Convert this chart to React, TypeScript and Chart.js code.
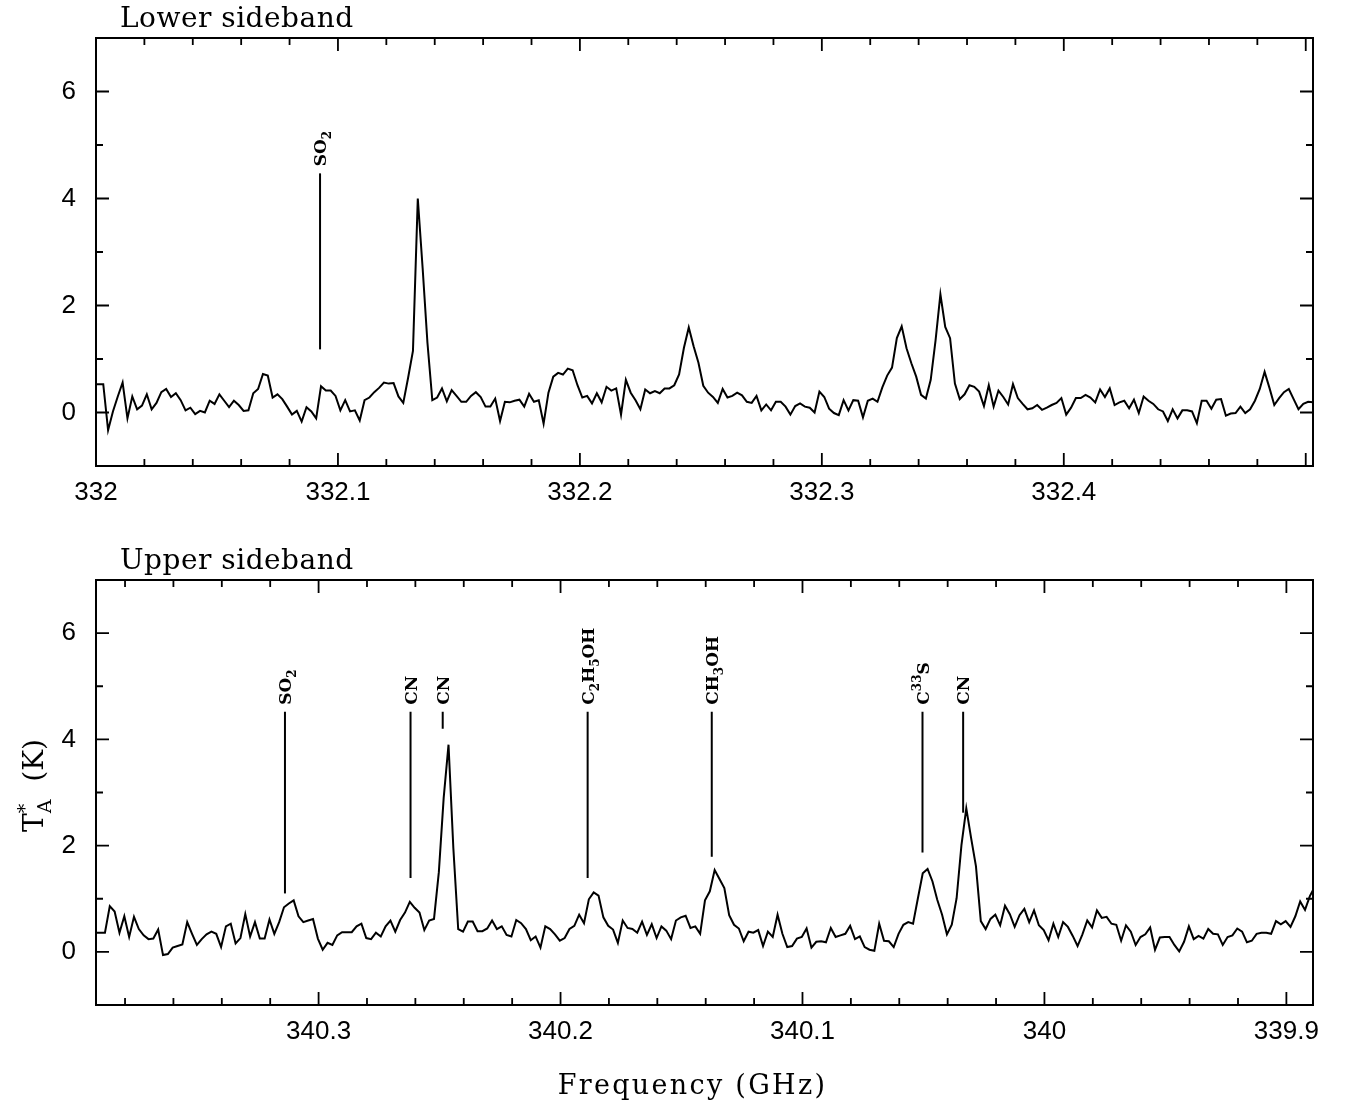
import React, { useEffect, useRef } from "react";
import { Chart, registerables } from "chart.js";

Chart.register(...registerables);

// ---------------- data ----------------
// channel grid (GHz)
const lowerStartGHz = 331.999;
const upperStartGHz = 340.3923;
const channelWidthGHz = 0.002;

// Lower sideband antenna temperature T_A* (K), one value per channel
const lowerValues = [
  0.53,
  0.53, 0.53, -0.33, 0.02, 0.30, 0.56, -0.11, 0.30, 0.06, 0.13,
  0.34, 0.06, 0.18, 0.38, 0.44, 0.29, 0.36, 0.23, 0.04, 0.09,
  -0.03, 0.03, 0.00, 0.22, 0.16, 0.34, 0.22, 0.10, 0.22, 0.14,
  0.03, 0.04, 0.36, 0.44, 0.72, 0.69, 0.28, 0.34, 0.25, 0.11,
  -0.04, 0.03, -0.17, 0.10, 0.02, -0.11, 0.49, 0.41, 0.41, 0.31,
  0.04, 0.23, 0.02, 0.04, -0.15, 0.23, 0.28, 0.38, 0.46, 0.56,
  0.54, 0.55, 0.30, 0.18, 0.65, 1.15, 4.00, 2.70, 1.30, 0.23,
  0.28, 0.45, 0.21, 0.42, 0.31, 0.20, 0.20, 0.31, 0.38, 0.29,
  0.11, 0.11, 0.26, -0.16, 0.20, 0.19, 0.22, 0.24, 0.11, 0.35,
  0.20, 0.23, -0.21, 0.37, 0.67, 0.74, 0.71, 0.82, 0.79, 0.51,
  0.28, 0.31, 0.17, 0.36, 0.19, 0.48, 0.41, 0.45, -0.04, 0.61,
  0.37, 0.23, 0.06, 0.43, 0.36, 0.40, 0.36, 0.45, 0.45, 0.51,
  0.71, 1.21, 1.59, 1.24, 0.93, 0.50, 0.37, 0.29, 0.18, 0.44,
  0.28, 0.31, 0.37, 0.32, 0.20, 0.18, 0.31, 0.04, 0.15, 0.04,
  0.20, 0.20, 0.11, -0.04, 0.12, 0.17, 0.11, 0.09, 0.00, 0.39,
  0.29, 0.07, -0.01, -0.05, 0.23, 0.04, 0.23, 0.22, -0.09, 0.22,
  0.26, 0.20, 0.47, 0.69, 0.84, 1.39, 1.61, 1.20, 0.92, 0.67,
  0.33, 0.26, 0.61, 1.35, 2.21, 1.60, 1.39, 0.54, 0.25, 0.34,
  0.51, 0.48, 0.39, 0.12, 0.51, 0.11, 0.41, 0.29, 0.15, 0.53,
  0.27, 0.16, 0.06, 0.08, 0.14, 0.05, 0.09, 0.14, 0.18, 0.27,
  -0.04, 0.09, 0.27, 0.27, 0.33, 0.28, 0.19, 0.43, 0.29, 0.45,
  0.14, 0.19, 0.22, 0.08, 0.24, -0.01, 0.30, 0.22, 0.16, 0.06,
  0.02, -0.16, 0.06, -0.11, 0.04, 0.04, 0.02, -0.20, 0.22, 0.22,
  0.07, 0.24, 0.25, -0.06, -0.02, -0.01, 0.11, -0.01, 0.06, 0.22,
  0.44, 0.76, 0.46, 0.14, 0.27, 0.38, 0.44, 0.25, 0.06, 0.16,
  0.20, 0.19,
];

// Upper sideband antenna temperature T_A* (K), frequency decreasing
const upperValues = [
  0.36, 0.36, 0.36, 0.86, 0.76, 0.36, 0.67, 0.28, 0.66, 0.43,
  0.31, 0.24, 0.25, 0.42, -0.06, -0.04, 0.08, 0.11, 0.14, 0.56,
  0.34, 0.13, 0.24, 0.33, 0.38, 0.34, 0.09, 0.48, 0.53, 0.16,
  0.26, 0.71, 0.29, 0.56, 0.25, 0.25, 0.61, 0.34, 0.56, 0.84,
  0.91, 0.97, 0.67, 0.56, 0.59, 0.62, 0.25, 0.04, 0.17, 0.13,
  0.31, 0.37, 0.37, 0.37, 0.48, 0.53, 0.26, 0.24, 0.36, 0.29,
  0.48, 0.59, 0.38, 0.60, 0.74, 0.94, 0.83, 0.74, 0.41, 0.59,
  0.62, 1.50, 2.90, 3.90, 1.95, 0.43, 0.38, 0.57, 0.57, 0.39,
  0.39, 0.44, 0.59, 0.43, 0.48, 0.32, 0.29, 0.60, 0.54, 0.43,
  0.22, 0.29, 0.08, 0.48, 0.43, 0.33, 0.21, 0.26, 0.43, 0.49,
  0.70, 0.54, 0.99, 1.12, 1.06, 0.65, 0.49, 0.42, 0.17, 0.59,
  0.45, 0.43, 0.36, 0.57, 0.32, 0.52, 0.26, 0.48, 0.40, 0.24,
  0.59, 0.65, 0.68, 0.45, 0.48, 0.34, 0.97, 1.14, 1.54, 1.37,
  1.20, 0.69, 0.51, 0.44, 0.20, 0.38, 0.36, 0.41, 0.11, 0.38,
  0.28, 0.70, 0.34, 0.09, 0.11, 0.25, 0.28, 0.44, 0.08, 0.19,
  0.20, 0.18, 0.45, 0.28, 0.31, 0.34, 0.49, 0.24, 0.29, 0.09,
  0.04, 0.02, 0.53, 0.21, 0.20, 0.09, 0.34, 0.51, 0.56, 0.53,
  1.01, 1.48, 1.56, 1.33, 0.98, 0.70, 0.33, 0.51, 1.01, 2.01,
  2.70, 2.14, 1.61, 0.58, 0.43, 0.62, 0.70, 0.50, 0.87, 0.71,
  0.47, 0.69, 0.81, 0.56, 0.78, 0.50, 0.41, 0.22, 0.53, 0.28,
  0.56, 0.47, 0.30, 0.11, 0.33, 0.59, 0.46, 0.78, 0.64, 0.66,
  0.53, 0.51, 0.21, 0.50, 0.38, 0.13, 0.28, 0.33, 0.46, 0.04,
  0.27, 0.28, 0.28, 0.13, 0.01, 0.19, 0.48, 0.24, 0.30, 0.25,
  0.43, 0.34, 0.33, 0.13, 0.28, 0.31, 0.44, 0.38, 0.18, 0.21,
  0.34, 0.36, 0.36, 0.34, 0.58, 0.52, 0.58, 0.47, 0.67, 0.95,
  0.79, 1.05, 1.22,
];

// axis ranges and labelled ticks
const lowerRange = [332.0, 332.503];
const upperRange = [339.889, 340.392];
const yRange = [-1, 7];
const lowerTickLabels = [332, 332.1, 332.2, 332.3, 332.4];
const upperTickLabels = [340.3, 340.2, 340.1, 340, 339.9];
const yTickLabels = [0, 2, 4, 6];

// line identifications
const lowerMarkerFreqs = [332.0926];
const lowerMarkerNames = ["SO_2"];
const lowerMarkerTops = [4.47];
const lowerMarkerBottoms = [1.18];

const upperMarkerFreqs = [340.3139, 340.262, 340.2487, 340.1888, 340.1375, 340.0504, 340.0336];
const upperMarkerNames = ["SO_2", "CN", "CN", "C_2H_5OH", "CH_3OH", "C^{33}S", "CN"];
const upperMarkerTops = [4.52, 4.52, 4.52, 4.52, 4.52, 4.52, 4.52];
const upperMarkerBottoms = [1.1, 1.39, 4.2, 1.39, 1.79, 1.87, 2.62];

// ---------------- styling ----------------
const W = 1348;
const TEXT_FONT = '"DejaVu Serif", "Liberation Serif", serif';
const TICK_FONT = '"Liberation Sans", Arial, sans-serif';
const MARK_FONT = '"DejaVu Serif", serif';

type Seg = { t: string; mode: "n" | "sub" | "sup" };

function parseRich(s: string): Seg[] {
  const out: Seg[] = [];
  let buf = "";
  let i = 0;
  while (i < s.length) {
    const c = s[i];
    if (c === "_" || c === "^") {
      if (buf) {
        out.push({ t: buf, mode: "n" });
        buf = "";
      }
      let t = "";
      if (s[i + 1] === "{") {
        const end = s.indexOf("}", i + 2);
        t = s.slice(i + 2, end);
        i = end + 1;
      } else {
        t = s[i + 1];
        i += 2;
      }
      out.push({ t, mode: c === "_" ? "sub" : "sup" });
    } else {
      buf += c;
      i++;
    }
  }
  if (buf) out.push({ t: buf, mode: "n" });
  return out;
}

function layoutRich(ctx: CanvasRenderingContext2D, text: string, size: number, family: string, weight: string) {
  const segs = parseRich(text);
  const items: { text: string; dx: number; dy: number; font: string }[] = [];
  let x = 0;
  let prev: { start: number; width: number; mode: string } | null = null;
  for (const s of segs) {
    if (s.mode === "n") {
      const f = `${weight} ${size}px ${family}`;
      ctx.font = f;
      const w = ctx.measureText(s.t).width;
      items.push({ text: s.t, dx: x, dy: 0, font: f });
      x += w;
      prev = null;
    } else {
      const ss = Math.round(size * 0.68);
      const f = `${weight} ${ss}px ${family}`;
      ctx.font = f;
      const w = ctx.measureText(s.t).width;
      let start = x;
      let stacked = false;
      if (prev && prev.mode !== s.mode) {
        start = prev.start;
        stacked = true;
      }
      const dy = s.mode === "sub" ? size * 0.3 : -size * 0.42;
      items.push({ text: s.t, dx: start, dy, font: f });
      x = stacked && prev ? Math.max(start + w, prev.start + prev.width) : start + w;
      prev = { start, width: w, mode: s.mode };
    }
  }
  return { items, width: x };
}

function drawRich(ctx: CanvasRenderingContext2D, lay: ReturnType<typeof layoutRich>, x0: number) {
  ctx.textAlign = "left";
  ctx.textBaseline = "alphabetic";
  for (const it of lay.items) {
    ctx.font = it.font;
    ctx.fillText(it.text, x0 + it.dx, it.dy);
  }
}

type Panel = {
  start: number;
  step: number;
  values: number[];
  range: number[];
  reverse: boolean;
  tickLabels: number[];
  markerFreqs: number[];
  markerNames: string[];
  markerTops: number[];
  markerBottoms: number[];
  title: string;
  height: number;
  areaTop: number;
  areaBottom: number;
  xTitle: string | null;
  yTitle: string | null;
};

const AREA_LEFT = 96;
const AREA_RIGHT = 1313;

const framePlugin = {
  id: "spectrumFrame",
  afterDraw(chart: any) {
    const panel: Panel = chart.options.plugins.spectrumFrame.panel;
    const { ctx, chartArea } = chart;
    const { left, right, top, bottom } = chartArea;
    const xs = chart.scales.x;
    const ys = chart.scales.y;
    ctx.save();
    ctx.strokeStyle = "#000";
    ctx.fillStyle = "#000";
    ctx.lineWidth = 2;
    ctx.strokeRect(left, top, right - left, bottom - top);

    // x ticks (inward, top and bottom)
    const xStep = 0.02;
    const nMin = Math.ceil(xs.min / xStep - 1e-6);
    const nMax = Math.floor(xs.max / xStep + 1e-6);
    ctx.lineWidth = 1.8;
    for (let n = nMin; n <= nMax; n++) {
      const px = xs.getPixelForValue(n * xStep);
      const len = n % 5 === 0 ? 13 : 7;
      ctx.beginPath();
      ctx.moveTo(px, bottom);
      ctx.lineTo(px, bottom - len);
      ctx.moveTo(px, top);
      ctx.lineTo(px, top + len);
      ctx.stroke();
    }
    // y ticks (inward, left and right)
    for (let v = Math.ceil(ys.min); v <= Math.floor(ys.max); v++) {
      const py = ys.getPixelForValue(v);
      const len = v % 2 === 0 ? 13 : 7;
      ctx.beginPath();
      ctx.moveTo(left, py);
      ctx.lineTo(left + len, py);
      ctx.moveTo(right, py);
      ctx.lineTo(right - len, py);
      ctx.stroke();
    }

    // line identifications
    ctx.lineWidth = 2;
    const markSize = 17;
    for (let i = 0; i < panel.markerFreqs.length; i++) {
      const px = xs.getPixelForValue(panel.markerFreqs[i]);
      const yT = ys.getPixelForValue(panel.markerTops[i]);
      const yB = ys.getPixelForValue(panel.markerBottoms[i]);
      ctx.beginPath();
      ctx.moveTo(px, yT);
      ctx.lineTo(px, yB);
      ctx.stroke();
      const lay = layoutRich(ctx, panel.markerNames[i], markSize, MARK_FONT, "bold");
      ctx.save();
      ctx.translate(px + markSize * 0.36, yT - 7);
      ctx.rotate(-Math.PI / 2);
      drawRich(ctx, lay, 0);
      ctx.restore();
    }

    // panel title
    ctx.font = `28px ${TEXT_FONT}`;
    ctx.textAlign = "left";
    ctx.textBaseline = "alphabetic";
    (ctx as any).letterSpacing = "0.5px";
    ctx.fillText(panel.title, 120, top - 11);

    // x-axis title
    if (panel.xTitle) {
      ctx.font = `27px ${TEXT_FONT}`;
      ctx.textAlign = "center";
      (ctx as any).letterSpacing = "2.3px";
      ctx.fillText(panel.xTitle, (left + right) / 2 - 12, chart.height - 8);
    }
    (ctx as any).letterSpacing = "0px";
    // y-axis title
    if (panel.yTitle) {
      const lay = layoutRich(ctx, panel.yTitle, 28, TEXT_FONT, "normal");
      ctx.save();
      ctx.translate(43, (top + bottom) / 2 - 7);
      ctx.rotate(-Math.PI / 2);
      drawRich(ctx, lay, -lay.width / 2);
      ctx.restore();
    }
    ctx.restore();
  },
};

function SpectrumPanel({ panel, top }: { panel: Panel; top: number }) {
  const ref = useRef<HTMLCanvasElement | null>(null);
  useEffect(() => {
    if (!ref.current) return;
    const points = panel.values.map((v, i) => ({
      x: panel.start + (panel.reverse ? -1 : 1) * panel.step * i,
      y: v,
    }));
    const chart = new Chart(ref.current, {
      type: "line",
      data: {
        datasets: [
          {
            data: points,
            borderColor: "#000",
            borderWidth: 2,
            pointRadius: 0,
            tension: 0,
            fill: false,
          },
        ],
      },
      options: {
        responsive: false,
        maintainAspectRatio: false,
        animation: false,
        devicePixelRatio: 1,
        layout: { padding: { left: 0, right: W - AREA_RIGHT, top: panel.areaTop, bottom: 0 } },
        plugins: {
          legend: { display: false },
          tooltip: { enabled: false },
          title: { display: false },
          spectrumFrame: { panel },
        } as any,
        scales: {
          x: {
            type: "linear",
            min: panel.range[0],
            max: panel.range[1],
            reverse: panel.reverse,
            grid: { display: false, drawTicks: false },
            border: { display: false },
            ticks: {
              color: "#000",
              font: { family: TICK_FONT, size: 26 },
              padding: 11,
              autoSkip: false,
              maxRotation: 0,
              callback: (v: any) => String(Math.round(Number(v) * 10) / 10),
            },
            afterBuildTicks: (s: any) => {
              s.ticks = panel.tickLabels.map((v) => ({ value: v }));
            },
            afterFit: (s: any) => {
              s.height = panel.height - panel.areaBottom;
            },
          },
          y: {
            type: "linear",
            min: yRange[0],
            max: yRange[1],
            grid: { display: false, drawTicks: false },
            border: { display: false },
            ticks: {
              color: "#000",
              font: { family: TICK_FONT, size: 26 },
              padding: 20,
              callback: (v: any) => String(v),
            },
            afterBuildTicks: (s: any) => {
              s.ticks = yTickLabels.map((v) => ({ value: v }));
            },
            afterFit: (s: any) => {
              s.width = AREA_LEFT;
            },
          },
        },
      },
      plugins: [framePlugin],
    } as any);
    return () => chart.destroy();
  }, [panel]);
  return (
    <canvas
      ref={ref}
      width={W}
      height={panel.height}
      style={{ position: "absolute", left: 0, top, width: W, height: panel.height }}
    />
  );
}

const lowerPanel: Panel = {
  start: lowerStartGHz,
  step: channelWidthGHz,
  values: lowerValues,
  range: lowerRange,
  reverse: false,
  tickLabels: lowerTickLabels,
  markerFreqs: lowerMarkerFreqs,
  markerNames: lowerMarkerNames,
  markerTops: lowerMarkerTops,
  markerBottoms: lowerMarkerBottoms,
  title: "Lower sideband",
  height: 530,
  areaTop: 38,
  areaBottom: 466,
  xTitle: null,
  yTitle: null,
};

const upperPanel: Panel = {
  start: upperStartGHz,
  step: channelWidthGHz,
  values: upperValues,
  range: upperRange,
  reverse: true,
  tickLabels: upperTickLabels,
  markerFreqs: upperMarkerFreqs,
  markerNames: upperMarkerNames,
  markerTops: upperMarkerTops,
  markerBottoms: upperMarkerBottoms,
  title: "Upper sideband",
  height: 572,
  areaTop: 50,
  areaBottom: 475,
  xTitle: "Frequency (GHz)",
  yTitle: "T_A^*  (K)",
};

export default function App() {
  return (
    <div
      style={{
        position: "absolute",
        left: 0,
        top: 0,
        width: W,
        height: 1102,
        background: "#fff",
        overflow: "hidden",
      }}
    >
      <SpectrumPanel panel={lowerPanel} top={0} />
      <SpectrumPanel panel={upperPanel} top={530} />
    </div>
  );
}
